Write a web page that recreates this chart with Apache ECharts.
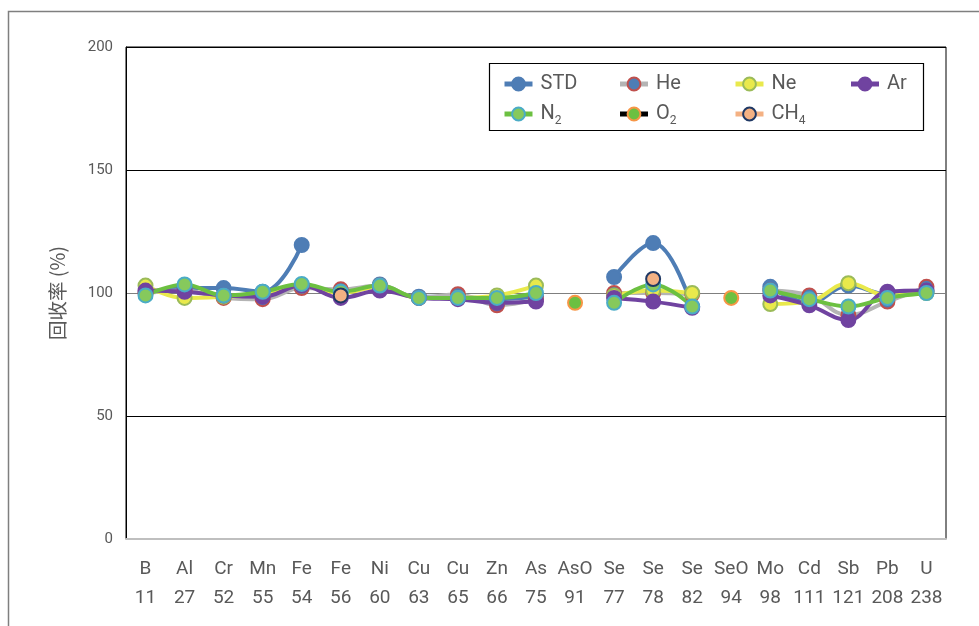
<!DOCTYPE html>
<html>
<head>
<meta charset="utf-8">
<script src="https://cdn.jsdelivr.net/npm/echarts@6/dist/echarts.min.js"></script>
<style>
html, body { margin: 0; padding: 0; background: #fff; }
#chart { width: 979px; height: 626px; }
</style>
</head>
<body>
<div id="chart"></div>
<script>
var elements = ['B', 'Al', 'Cr', 'Mn', 'Fe', 'Fe', 'Ni', 'Cu', 'Cu', 'Zn', 'As', 'AsO', 'Se', 'Se', 'Se', 'SeO', 'Mo', 'Cd', 'Sb', 'Pb', 'U'];
var masses = ['11', '27', '52', '55', '54', '56', '60', '63', '65', '66', '75', '91', '77', '78', '82', '94', '98', '111', '121', '208', '238'];

var stdValues = [100, 102, 102, 100.5, 119.5, null, 103.5, 98.5, 98.5, 97.5, 98.5, null, 106.5, 120.3, 94.5, null, 102.5, 96, 103, 99.5, 100.5];
var heValues = [100, 101, 98, 97.5, 102, 101.5, 103, 98, 99.5, 95, 97.5, null, 100, 100, 99.5, null, 101, 99, 91, 96.5, 102.5];
var neValues = [103, 98, 98.5, 99.5, 103, 100, 102.5, 98, 98, 99, 103, null, 99, 101, 100, null, 95.5, 96.5, 104, 99, 100];
var arValues = [101, 100.5, 99, 98.5, 103, 98, 101, 98, 97.5, 96, 96.5, null, 98, 96.5, 94, null, 99, 95, 89, 100.5, 101];
var n2Values = [99, 103.5, 99, 100.5, 103.7, 100.5, 103, 98, 98, 98, 100, null, 96, 103.5, 94.5, null, 101, 97.5, 94.5, 98, 100];
var o2Values = [null, null, null, null, null, null, null, null, null, null, null, 96, null, null, null, 98, null, null, null, null, null];
var ch4Values = [null, null, null, null, null, 99, null, null, null, null, null, null, null, 105.7, null, null, null, null, null, null, null];

var yTicks = [0, 50, 100, 150, 200];

var categories = elements.map(function(e, i) {
    return e + '\n' + masses[i];
});

var chart = echarts.init(document.getElementById('chart'));

function makeSeries(name, data, lineColor, fillColor, borderColor) {
    return {
        name: name,
        type: 'line',
        data: data,
        smooth: 0.4,
        connectNulls: false,
        symbol: 'circle',
        symbolSize: 14,
        showAllSymbol: true,
        lineStyle: { color: lineColor, width: 4 },
        itemStyle: { color: fillColor, borderColor: borderColor, borderWidth: 2 },
        emphasis: { disabled: true }
    };
}

var subNames = { 'N2': '{n|N}{s|2}', 'O2': '{n|O}{s|2}', 'CH4': '{n|CH}{s|4}' };

var option = {
    animation: false,
    textStyle: { fontFamily: 'Roboto' },
    graphic: [
        {
            type: 'rect',
            shape: { x: 8.5, y: 11.5, width: 1000, height: 700 },
            style: { fill: 'none', stroke: '#7f7f7f', lineWidth: 1.5 },
            silent: true
        },
        {
            type: 'rect',
            shape: { x: 489.5, y: 63.5, width: 434, height: 67 },
            style: { fill: '#fff', stroke: '#000', lineWidth: 1.2 },
            silent: true,
            z: 1
        }
    ],
    grid: {
        left: 126,
        top: 47,
        right: 33,
        bottom: 87,
        show: true,
        borderColor: '#000',
        borderWidth: 1
    },
    legend: {
        left: 502,
        top: 69,
        width: 470,
        padding: 0,
        itemWidth: 28,
        itemHeight: 16,
        itemGap: 0,
        z: 10,
        lineStyle: { width: 5 },
        data: ['STD', 'He', 'Ne', 'Ar', 'N2', 'O2', 'CH4'],
        formatter: function(name) {
            return subNames[name] || ('{n|' + name + '}');
        },
        textStyle: {
            color: '#595959',
            fontSize: 20,
            width: 77,
            height: 30,
            lineHeight: 30,
            padding: [0, 0, 0, 3],
            rich: {
                n: { fontSize: 20, color: '#595959', lineHeight: 30 },
                s: { fontSize: 12, color: '#595959', padding: [14, 0, 0, 0] }
            }
        }
    },
    xAxis: {
        type: 'category',
        data: categories,
        boundaryGap: true,
        axisLine: { lineStyle: { color: '#bfbfbf', width: 2 } },
        axisTick: { show: false },
        axisLabel: {
            interval: 0,
            color: '#595959',
            fontSize: 19,
            lineHeight: 29,
            margin: 16
        }
    },
    yAxis: {
        type: 'value',
        min: yTicks[0],
        max: yTicks[yTicks.length - 1],
        interval: 50,
        name: '回收率 (%)',
        nameLocation: 'middle',
        nameGap: 59,
        nameRotate: 90,
        nameTextStyle: { color: '#595959', fontSize: 19.5, fontFamily: 'Noto Sans CJK SC' },
        axisLine: { show: true, lineStyle: { color: '#000', width: 1 } },
        axisTick: { show: false },
        axisLabel: { color: '#595959', fontSize: 15, margin: 13 },
        splitLine: {
            show: true,
            lineStyle: { color: ['#bfbfbf', '#000', '#7f7f7f', '#000', '#000'], width: 1.2 }
        }
    },
    series: [
        makeSeries('STD', stdValues, '#4e7db5', '#4e7db5', '#4e7db5'),
        makeSeries('He', heValues, '#b4b4b4', '#4e7db5', '#c0504d'),
        makeSeries('Ne', neValues, '#e9e94c', '#e9e94c', '#9bbb59'),
        makeSeries('Ar', arValues, '#7043a0', '#7043a0', '#7043a0'),
        makeSeries('N2', n2Values, '#6cc041', '#86c95c', '#4bacc6'),
        makeSeries('O2', o2Values, '#000000', '#6cc041', '#f79646'),
        makeSeries('CH4', ch4Values, '#f4b183', '#f4b183', '#1f3864')
    ]
};

chart.setOption(option);
</script>
</body>
</html>
